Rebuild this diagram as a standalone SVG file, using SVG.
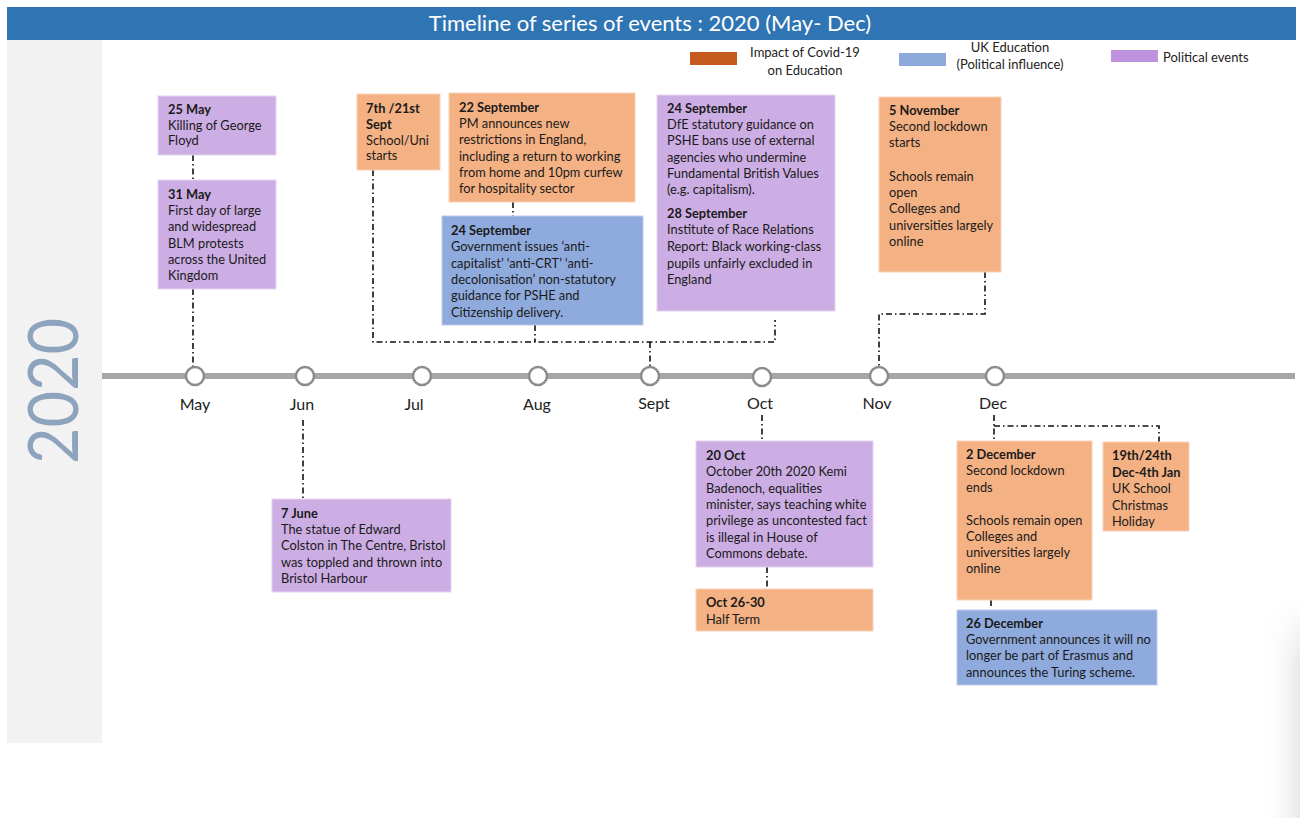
<svg xmlns="http://www.w3.org/2000/svg" width="1300" height="818" viewBox="0 0 1300 818">
<defs>
<linearGradient id="shadow" x1="0" y1="0" x2="1" y2="0">
<stop offset="0" stop-color="#ffffff" stop-opacity="0"/>
<stop offset="1" stop-color="#e8e8e8" stop-opacity="1"/>
</linearGradient>
<linearGradient id="shadowV" x1="0" y1="0" x2="0" y2="1">
<stop offset="0" stop-color="#ffffff" stop-opacity="1"/>
<stop offset="0.3" stop-color="#ffffff" stop-opacity="0"/>
</linearGradient>
</defs>
<style>
text{font-family:Lato,"Liberation Sans",sans-serif;fill:#1a1a1a}
.t{font-size:12.8px}
.b{font-weight:bold}
.p{fill:#cdaee4;stroke:#e4d3f1;stroke-width:1}
.o{fill:#f4b183;stroke:#f9d3b8;stroke-width:1}
.u{fill:#8faadc;stroke:#bccbea;stroke-width:1}
.m{font-size:16px;text-anchor:middle;fill:#222}
.c{fill:none;stroke:#111;stroke-width:1.6;stroke-dasharray:6 3 1.5 3}
.n{fill:#fff;stroke:#8c8c8c;stroke-width:2.5}
.lg{font-size:13px;fill:#222}
</style>
<rect width="1300" height="818" fill="#fff"/>
<rect x="1260" y="600" width="40" height="218" fill="url(#shadow)"/>
<rect x="1260" y="600" width="40" height="218" fill="url(#shadowV)"/>
<g id="header">
<rect x="7" y="7" width="1289" height="33" fill="#2f75b3"/>
<text x="650" y="31" text-anchor="middle" style="font-size:22px;fill:#fff">Timeline of series of events : 2020 (May- Dec)</text>
</g>
<g id="year-panel">
<rect x="7" y="40" width="95" height="703" fill="#f2f2f2"/>
<text transform="translate(78,391) rotate(-90)" text-anchor="middle" textLength="146" lengthAdjust="spacingAndGlyphs" style="font-size:70px;fill:#8ea3bd">2020</text>
</g>
<g id="legend">
<rect x="690" y="52" width="47" height="13" fill="#c55a1e"/>
<text class="lg" x="805" y="57" text-anchor="middle">Impact of Covid-19</text>
<text class="lg" x="805" y="75" text-anchor="middle">on Education</text>
<rect x="899" y="53" width="47" height="13" fill="#8eaadb"/>
<text class="lg" x="1010" y="52" text-anchor="middle">UK Education</text>
<text class="lg" x="1010" y="69" text-anchor="middle">(Political influence)</text>
<rect x="1111" y="50" width="47" height="12" fill="#bf92dc"/>
<text class="lg" x="1163" y="62">Political events</text>
</g>
<g id="connectors">
<path class="c" d="M193 155V180"/>
<path class="c" d="M193 289V367"/>
<path class="c" d="M373 170V342H775V320"/>
<path class="c" d="M513 202V216"/>
<path class="c" d="M535 325V342"/>
<path class="c" d="M650 342V367"/>
<path class="c" d="M985 272V314H879V367"/>
<path class="c" d="M303 420V498"/>
<path class="c" d="M762 415V441"/>
<path class="c" d="M767 567V588"/>
<path class="c" d="M994 415V441"/>
<path class="c" d="M994 426H1159V442"/>
<path class="c" d="M991 600V609"/>
</g>
<g id="timeline">
<rect x="102" y="373" width="1193" height="6" fill="#a6a6a6"/>
<circle class="n" cx="195" cy="376" r="9"/>
<circle class="n" cx="305" cy="376" r="9"/>
<circle class="n" cx="422" cy="376" r="9"/>
<circle class="n" cx="538" cy="376" r="9"/>
<circle class="n" cx="650" cy="376" r="9"/>
<circle class="n" cx="762" cy="377" r="9"/>
<circle class="n" cx="879" cy="376" r="9"/>
<circle class="n" cx="995" cy="376" r="9"/>
<text class="m" x="195" y="410">May</text>
<text class="m" x="302" y="410">Jun</text>
<text class="m" x="414" y="410">Jul</text>
<text class="m" x="537" y="410">Aug</text>
<text class="m" x="654" y="409">Sept</text>
<text class="m" x="760" y="409">Oct</text>
<text class="m" x="877" y="409">Nov</text>
<text class="m" x="993" y="409">Dec</text>
</g>
<g id="n-25may">
<rect class="p" x="158" y="96" width="118" height="59"/>
<text class="t" x="168" y="114"><tspan class="b">25 May</tspan><tspan x="168" dy="15.7">Killing of George</tspan><tspan x="168" dy="15.7">Floyd</tspan></text>
</g>
<g id="n-31may">
<rect class="p" x="158" y="180" width="118" height="109"/>
<text class="t" x="168" y="199"><tspan class="b">31 May</tspan><tspan x="168" dy="16.2">First day of large</tspan><tspan x="168" dy="16.2">and widespread</tspan><tspan x="168" dy="16.2">BLM protests</tspan><tspan x="168" dy="16.2">across the United</tspan><tspan x="168" dy="16.2">Kingdom</tspan></text>
</g>
<g id="n-sept-start">
<rect class="o" x="357" y="94" width="83" height="76"/>
<text class="t" x="366" y="113"><tspan class="b">7th /21st</tspan><tspan x="366" dy="15.8" class="b">Sept</tspan><tspan x="366" dy="15.8">School/Uni</tspan><tspan x="366" dy="15.8">starts</tspan></text>
</g>
<g id="n-22sept">
<rect class="o" x="449" y="93" width="186" height="109"/>
<text class="t" x="459" y="112"><tspan class="b">22 September</tspan><tspan x="459" dy="16.2">PM announces new</tspan><tspan x="459" dy="16.2">restrictions in England,</tspan><tspan x="459" dy="16.2">including a return to working</tspan><tspan x="459" dy="16.2">from home and 10pm curfew</tspan><tspan x="459" dy="16.2">for hospitality sector</tspan></text>
</g>
<g id="n-24sept-gov">
<rect class="u" x="442" y="216" width="201" height="109"/>
<text class="t" x="451" y="235"><tspan class="b">24 September</tspan><tspan x="451" dy="16.3">Government issues ‘anti-</tspan><tspan x="451" dy="16.3">capitalist’ ‘anti-CRT’ ‘anti-</tspan><tspan x="451" dy="16.3">decolonisation’ non-statutory</tspan><tspan x="451" dy="16.3">guidance for PSHE and</tspan><tspan x="451" dy="16.3">Citizenship delivery.</tspan></text>
</g>
<g id="n-24sept-dfe">
<rect class="p" x="657" y="95" width="178" height="216"/>
<text class="t" x="667" y="113"><tspan class="b">24 September</tspan><tspan x="667" dy="16.2">DfE statutory guidance on</tspan><tspan x="667" dy="16.2">PSHE bans use of external</tspan><tspan x="667" dy="16.2">agencies who undermine</tspan><tspan x="667" dy="16.2">Fundamental British Values</tspan><tspan x="667" dy="16.2">(e.g. capitalism).</tspan><tspan x="667" dy="24" class="b">28 September</tspan><tspan x="667" dy="16.4">Institute of Race Relations</tspan><tspan x="667" dy="16.4">Report: Black working-class</tspan><tspan x="667" dy="16.8">pupils unfairly excluded in</tspan><tspan x="667" dy="16.4">England</tspan></text>
</g>
<g id="n-5nov">
<rect class="o" x="879" y="97" width="122" height="175"/>
<text class="t" x="889" y="115"><tspan class="b">5 November</tspan><tspan x="889" dy="16.2">Second lockdown</tspan><tspan x="889" dy="16.2">starts</tspan><tspan x="889" dy="33.6">Schools remain</tspan><tspan x="889" dy="16.2">open</tspan><tspan x="889" dy="16.2">Colleges and</tspan><tspan x="889" dy="16.4">universities largely</tspan><tspan x="889" dy="15.8">online</tspan></text>
</g>
<g id="n-7june">
<rect class="p" x="272" y="499" width="179" height="93"/>
<text class="t" x="281" y="518"><tspan class="b">7 June</tspan><tspan x="281" dy="16.2">The statue of Edward</tspan><tspan x="281" dy="16.2">Colston in The Centre, Bristol</tspan><tspan x="281" dy="16.2">was toppled and thrown into</tspan><tspan x="281" dy="16.2">Bristol Harbour</tspan></text>
</g>
<g id="n-20oct">
<rect class="p" x="696" y="441" width="177" height="126"/>
<text class="t" x="706" y="460"><tspan class="b">20 Oct</tspan><tspan x="706" dy="16.3">October 20th 2020 Kemi</tspan><tspan x="706" dy="16.3">Badenoch, equalities</tspan><tspan x="706" dy="16.3">minister, says teaching white</tspan><tspan x="706" dy="16.3">privilege as uncontested fact</tspan><tspan x="706" dy="16.3">is illegal in House of</tspan><tspan x="706" dy="16.3">Commons debate.</tspan></text>
</g>
<g id="n-halfterm">
<rect class="o" x="696" y="589" width="177" height="42"/>
<text class="t" x="706" y="607"><tspan class="b">Oct 26-30</tspan><tspan x="706" dy="16.5">Half Term</tspan></text>
</g>
<g id="n-2dec">
<rect class="o" x="957" y="441" width="135" height="159"/>
<text class="t" x="966" y="459"><tspan class="b">2 December</tspan><tspan x="966" dy="16.3">Second lockdown</tspan><tspan x="966" dy="16.3">ends</tspan><tspan x="966" dy="33">Schools remain open</tspan><tspan x="966" dy="16.2">Colleges and</tspan><tspan x="966" dy="16.2">universities largely</tspan><tspan x="966" dy="16.2">online</tspan></text>
</g>
<g id="n-xmas">
<rect class="o" x="1103" y="442" width="86" height="89"/>
<text class="t" x="1112" y="460"><tspan class="b">19th/24th</tspan><tspan x="1112" dy="16.5" class="b">Dec-4th Jan</tspan><tspan x="1112" dy="16.5">UK School</tspan><tspan x="1112" dy="16.5">Christmas</tspan><tspan x="1112" dy="16.5">Holiday</tspan></text>
</g>
<g id="n-26dec">
<rect class="u" x="957" y="610" width="200" height="75"/>
<text class="t" x="966" y="628"><tspan class="b">26 December</tspan><tspan x="966" dy="16.2">Government announces it will no</tspan><tspan x="966" dy="16.2">longer be part of Erasmus and</tspan><tspan x="966" dy="16.2">announces the Turing scheme.</tspan></text>
</g>
</svg>
